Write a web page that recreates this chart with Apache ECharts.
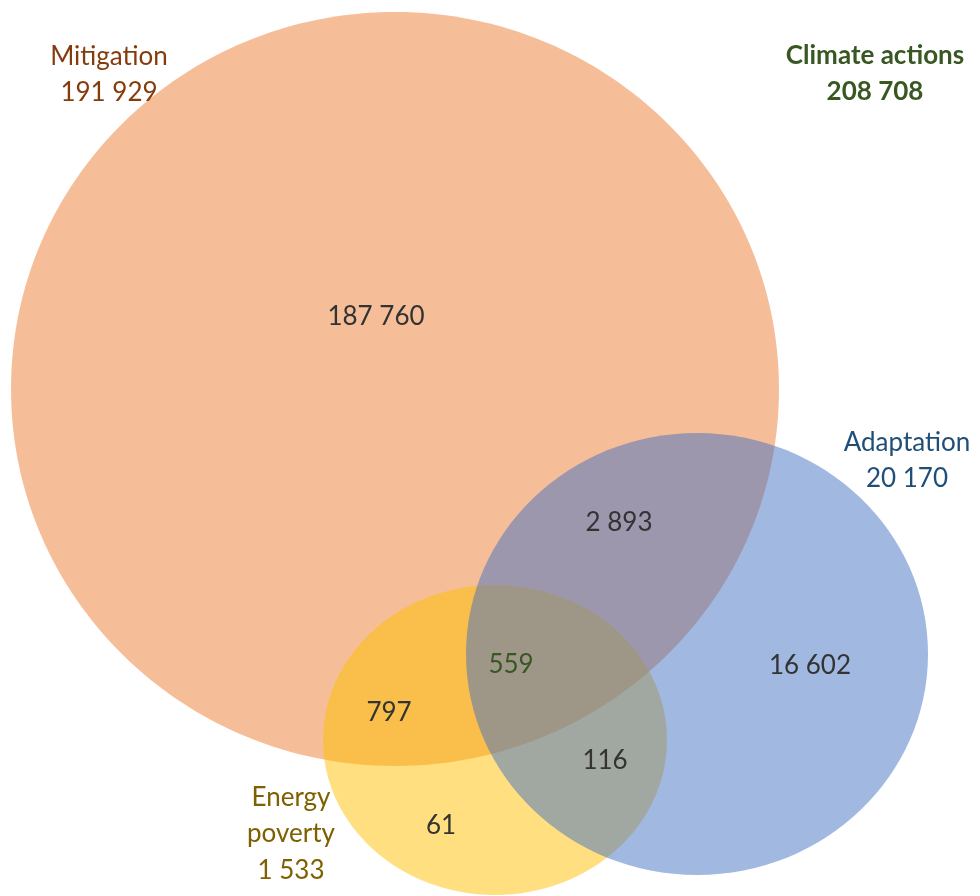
<!DOCTYPE html>
<html>
<head>
<meta charset="utf-8">
<title>Climate actions</title>
<script src="https://cdn.jsdelivr.net/npm/echarts@6/dist/echarts.min.js"></script>
<style>
    html, body { margin: 0; padding: 0; background: #fff; }
    #venn { width: 980px; height: 896px; }
</style>
</head>
<body>
<div id="venn"></div>
<script>
// counts
var setNames = ['Mitigation', 'Energy\npoverty', 'Adaptation'];
var setTotals = [191929, 1533, 20170];
var regionNames = ['Mitigation only', 'Mitigation & Adaptation', 'Adaptation only', 'Mitigation & Energy poverty',
    'All three', 'Adaptation & Energy poverty', 'Energy poverty only'];
var regionCounts = [187760, 2893, 16602, 797, 559, 116, 61];
var totalName = 'Climate actions';
var totalCount = 208708;

// layout of the drawing (pixel space of the hidden axes), drawn in this order
var setLayout = [
    { cx: 395, cy: 389, rx: 384, ry: 377 },
    { cx: 495, cy: 740, rx: 172, ry: 155 },
    { cx: 697, cy: 654, rx: 231, ry: 221 }
];
var setColors = ['rgba(237,125,49,0.5)', 'rgba(255,192,0,0.5)', 'rgba(68,114,196,0.5)'];
var setTextColors = ['#843C0C', '#7F6000', '#1F4E79'];
var setLabelPos = [[109, 75], [291, 834], [907, 461]];
var regionLabelPos = [[376, 317], [619, 523], [810, 666], [389, 713], [511, 665], [605, 761], [441, 826]];
var totalLabelPos = [875, 74];

function fmt(n) {
    return String(n).replace(/\B(?=(\d{3})+(?!\d))/g, ' ');
}

var myChart = echarts.init(document.getElementById('venn'));

var circleData = [];
for (let i = 0; i < setLayout.length; i++) {
    circleData.push([setLayout[i].cx, setLayout[i].cy, setLayout[i].rx, setLayout[i].ry]);
}

var labelData = [];
for (let i = 0; i < regionCounts.length; i++) {
    labelData.push({
        name: regionNames[i],
        value: [regionLabelPos[i][0], regionLabelPos[i][1]],
        label: { formatter: fmt(regionCounts[i]), color: i == 4 ? '#385723' : '#333333' }
    });
}
for (let i = 0; i < setNames.length; i++) {
    labelData.push({
        name: setNames[i],
        value: setLabelPos[i],
        label: { formatter: setNames[i] + '\n' + fmt(setTotals[i]), color: setTextColors[i], lineHeight: i == 1 ? 36.5 : 36 }
    });
}
labelData.push({
    name: totalName,
    value: totalLabelPos,
    label: { formatter: totalName + '\n' + fmt(totalCount), color: '#385723', fontWeight: 'bold', lineHeight: 36 }
});

var option = {
    animation: false,
    grid: { left: 0, right: 0, top: 0, bottom: 0 },
    xAxis: { type: 'value', min: 0, max: 980, show: false },
    yAxis: { type: 'value', min: 0, max: 896, inverse: true, show: false },
    series: [{
        type: 'custom',
        silent: true,
        data: circleData,
        renderItem: function(params, api) {
            var c = api.coord([api.value(0), api.value(1)]);
            var s = api.size([api.value(2), api.value(3)]);
            return {
                type: 'ellipse',
                shape: { cx: c[0], cy: c[1], rx: s[0], ry: s[1] },
                style: { fill: setColors[params.dataIndex] }
            };
        }
    }, {
        type: 'scatter',
        silent: true,
        symbolSize: 0,
        z: 5,
        itemStyle: { opacity: 1 },
        data: labelData,
        label: {
            show: true,
            position: 'inside',
            fontFamily: 'Lato',
            fontSize: 26,
            lineHeight: 36,
            opacity: 1,
            align: 'center',
            verticalAlign: 'middle'
        }
    }]
};
myChart.setOption(option);
</script>
</body>
</html>
